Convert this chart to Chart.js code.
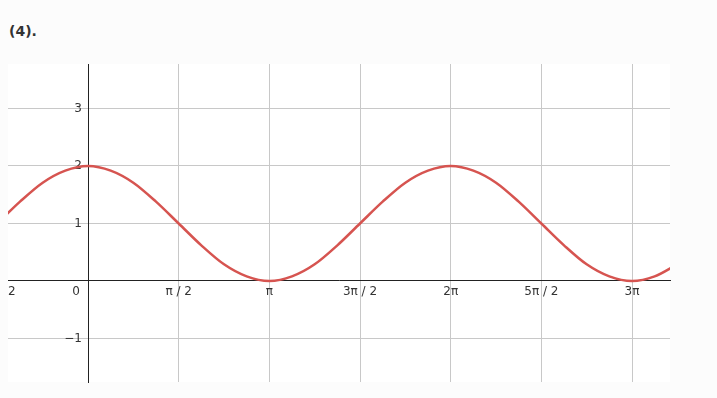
<!DOCTYPE html>
<html>
<head>
<meta charset="utf-8">
<script src="https://cdn.jsdelivr.net/npm/chart.js@4.4.1/dist/chart.umd.min.js"></script>
<style>
  body { margin: 0; background: #fcfcfc; }
  #title {
    position: absolute; left: 9px; top: 23px;
    font: bold 14px "DejaVu Sans", sans-serif;
    line-height: 16px;
    color: #333;
  }
  canvas { position: absolute; left: 0; top: 0; }
</style>
</head>
<body>
<div id="title">(4).</div>
<canvas id="myChart" width="717" height="398"></canvas>
<script>
'use strict';
// points (x in radians)
let xValues = [-1.571, -1.178, -0.785, -0.393, 0, 0.393, 0.785, 1.178, 1.571, 1.963, 2.356, 2.749, 3.142,
  3.534, 3.927, 4.320, 4.712, 5.105, 5.498, 5.890, 6.283, 6.676, 7.069, 7.461, 7.854, 8.247, 8.639,
  9.032, 9.425, 9.817, 10.21];
let yValues = [1, 1.38, 1.71, 1.92, 2, 1.92, 1.71, 1.38, 1, 0.62, 0.29, 0.08, 0,
  0.08, 0.29, 0.62, 1, 1.38, 1.71, 1.92, 2, 1.92, 1.71, 1.38, 1, 0.62, 0.29,
  0.08, 0, 0.08, 0.29];

let xTickValues = [-1.5708, 0, 1.5708, 3.1416, 4.7124, 6.2832, 7.854, 9.4248];
let xTickLabels = ['\u2212\u03c0 / 2', '0\u2003\u2003', '\u03c0 / 2', '\u03c0', '3\u03c0 / 2', '2\u03c0', '5\u03c0 / 2', '3\u03c0'];
let yTickValues = [-1, 0, 1, 2, 3];
let yTickLabels = ['\u22121\u2002', '', '1\u2002', '2\u2002', '3\u2002'];

let xMin = -1.386, xMax = 10.083;
let yMin = -1.757, yMax = 3.774;

let points = [];
for (let i = 0; i < xValues.length; i++) {
  points.push({ x: xValues[i], y: yValues[i] });
}

// white plot box, and cut off anything the axes draw left of it
const plotBg = {
  id: 'plotBg',
  beforeDraw(chart) {
    const a = chart.chartArea;
    const ctx = chart.ctx;
    ctx.save();
    ctx.fillStyle = '#ffffff';
    ctx.fillRect(a.left, a.top, a.right - a.left, a.bottom - a.top);
    ctx.beginPath();
    ctx.rect(a.left, 0, chart.width - a.left, chart.height);
    ctx.clip();
  },
  beforeDatasetsDraw(chart) {
    chart.ctx.restore();
  }
};

Chart.defaults.font.family = '"DejaVu Sans", sans-serif';
Chart.defaults.font.size = 12;
Chart.defaults.color = '#333';

var ctx = document.getElementById('myChart').getContext('2d');
var myChart = new Chart(ctx, {
  type: 'line',
  data: {
    datasets: [{
      data: points,
      borderColor: 'rgb(214, 84, 80)',
      borderWidth: 2.5,
      pointRadius: 0,
      cubicInterpolationMode: 'monotone',
      fill: false
    }]
  },
  options: {
    responsive: false,
    animation: false,
    layout: { padding: { left: 8, top: 64, right: 47, bottom: 16 } },
    plugins: { legend: { display: false }, tooltip: { enabled: false } },
    scales: {
      x: {
        type: 'linear',
        position: { y: 0 },
        min: xMin,
        max: xMax,
        afterFit(s) { s.height = 0; s.paddingLeft = 0; s.paddingRight = 0; },
        afterBuildTicks(s) { s.ticks = xTickValues.map(v => ({ value: v })); },
        grid: { color: '#c8c8c8', drawTicks: false },
        border: { color: '#222', width: 1 },
        ticks: {
          autoSkip: false, maxRotation: 0, padding: 4,
          callback: (v, i) => xTickLabels[i]
        }
      },
      y: {
        type: 'linear',
        position: { x: 0 },
        min: yMin,
        max: yMax,
        afterFit(s) { s.width = 0; s.paddingTop = 0; s.paddingBottom = 0; },
        afterBuildTicks(s) { s.ticks = yTickValues.map(v => ({ value: v })); },
        grid: { color: '#c8c8c8', drawTicks: false },
        border: { color: '#222', width: 1 },
        ticks: {
          autoSkip: false,
          callback: (v, i) => yTickLabels[i]
        }
      }
    }
  },
  plugins: [plotBg]
});
</script>
</body>
</html>
